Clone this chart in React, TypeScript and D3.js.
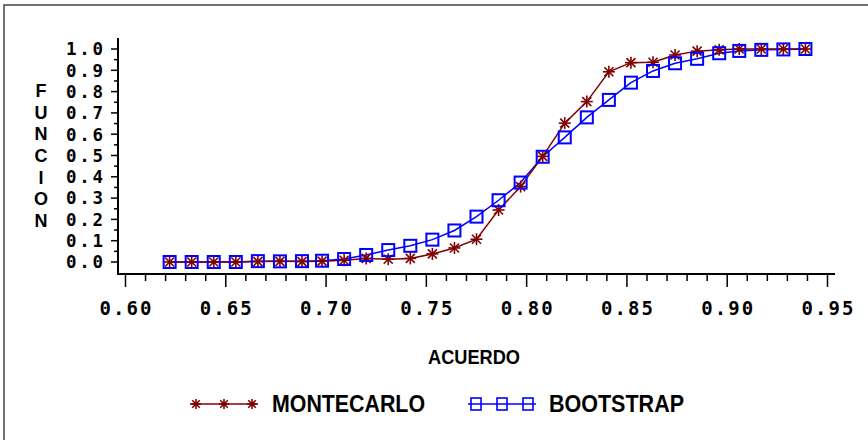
import React from 'react';
import * as d3 from 'd3';

// agreement values (x) shared by both curves
const acuerdo = [
  0.622, 0.633, 0.644, 0.655, 0.666, 0.677, 0.688, 0.698, 0.709, 0.720,
  0.731, 0.742, 0.753, 0.764, 0.775, 0.786, 0.797, 0.808, 0.819, 0.830,
  0.841, 0.852, 0.863, 0.874, 0.885, 0.896, 0.906, 0.917, 0.928, 0.939,
];

const montecarlo = [
  0.000, 0.000, 0.000, 0.000, 0.002, 0.003, 0.002, 0.004, 0.008, 0.017,
  0.013, 0.017, 0.038, 0.066, 0.107, 0.244, 0.354, 0.496, 0.652, 0.753,
  0.893, 0.936, 0.938, 0.972, 0.990, 0.996, 1.000, 1.000, 1.000, 1.000,
];

const bootstrap = [
  0.000, 0.000, 0.000, 0.000, 0.004, 0.003, 0.004, 0.006, 0.014, 0.033,
  0.056, 0.076, 0.105, 0.148, 0.213, 0.290, 0.373, 0.494, 0.585, 0.679,
  0.761, 0.842, 0.897, 0.933, 0.954, 0.980, 0.991, 0.996, 0.998, 1.000,
];

const xTicks = [0.6, 0.65, 0.7, 0.75, 0.8, 0.85, 0.9, 0.95];
const xTickLabels = ['0.60', '0.65', '0.70', '0.75', '0.80', '0.85', '0.90', '0.95'];
const yTicks = [0, 0.1, 0.2, 0.3, 0.4, 0.5, 0.6, 0.7, 0.8, 0.9, 1.0];
const yTickLabels = ['0.0', '0.1', '0.2', '0.3', '0.4', '0.5', '0.6', '0.7', '0.8', '0.9', '1.0'];
const yTitle = ['F', 'U', 'N', 'C', 'I', 'O', 'N'];

const RED = '#800000';
const BLUE = '#0000ff';
const monoFont = '"DejaVu Sans Mono", monospace';
const sansFont = '"Liberation Sans", Arial, sans-serif';

const Star = ({ cx, cy, r, color }: { cx: number; cy: number; r: number; color: string }) => {
  const d = r * 0.75;
  return (
    <g stroke={color} strokeWidth={1.6}>
      <line x1={cx - r} y1={cy} x2={cx + r} y2={cy} />
      <line x1={cx} y1={cy - r} x2={cx} y2={cy + r} />
      <line x1={cx - d} y1={cy - d} x2={cx + d} y2={cy + d} />
      <line x1={cx - d} y1={cy + d} x2={cx + d} y2={cy - d} />
      <circle cx={cx} cy={cy} r={1.8} fill={color} stroke="none" />
    </g>
  );
};

export default function App() {
  const width = 868;
  const height = 440;

  const xScale = d3.scaleLinear().domain([0.6, 0.95]).range([125.5, 827.5]);
  const yScale = d3.scaleLinear().domain([0, 1]).range([262, 49]);

  const axisLeft = 118;
  const axisBottom = 274;

  const xMinor = d3.range(60, 96).map((v) => v / 100).filter((v) => Math.round(v * 100) % 5 !== 0);
  const yMinor = d3.range(0, 21).map((v) => v / 20).filter((v, i) => i % 2 === 1);

  const line = d3.line<number>()
    .x((d, i) => xScale(acuerdo[i]))
    .y((d) => yScale(d));

  return (
    <svg width={width} height={height} style={{ position: 'absolute', left: 0, top: 0 }}>
      <rect x={0} y={0} width={width} height={height} fill="#fff" />
      {/* outer frame (right and bottom edges fall outside the picture) */}
      <rect x={4} y={5} width={width + 10} height={height + 10} fill="none" stroke="#444" strokeWidth={1.5} />

      {/* y axis */}
      <line x1={axisLeft} y1={38} x2={axisLeft} y2={axisBottom + 1} stroke="#000" strokeWidth={2} />
      {yTicks.map((t) => (
        <line key={`yt${t}`} x1={axisLeft - 7} x2={axisLeft} y1={yScale(t)} y2={yScale(t)} stroke="#000" strokeWidth={1.5} />
      ))}
      {yMinor.map((t) => (
        <line key={`ym${t}`} x1={axisLeft - 4} x2={axisLeft} y1={yScale(t)} y2={yScale(t)} stroke="#000" strokeWidth={1.5} />
      ))}
      {yTicks.map((t, i) => (
        <text
          key={`yl${t}`}
          x={66}
          y={yScale(t)}
          dy="0.36em"
          textLength={37}
          lengthAdjust="spacing"
          fontFamily={monoFont}
          fontWeight="bold"
          fontSize={17.5}
          fill="#000"
        >
          {yTickLabels[i]}
        </text>
      ))}
      {yTitle.map((c, i) => (
        <text
          key={`ft${i}`}
          x={41}
          y={90.5 + i * 21.7}
          dy="0.36em"
          textAnchor="middle"
          fontFamily={sansFont}
          fontWeight="bold"
          fontSize={18}
          fill="#000"
        >
          {c}
        </text>
      ))}

      {/* x axis */}
      <line x1={axisLeft} y1={axisBottom} x2={835} y2={axisBottom} stroke="#000" strokeWidth={2} />
      {xTicks.map((t) => (
        <line key={`xt${t}`} x1={xScale(t)} x2={xScale(t)} y1={axisBottom} y2={axisBottom + 13} stroke="#000" strokeWidth={1.5} />
      ))}
      {xMinor.map((t) => (
        <line key={`xm${t}`} x1={xScale(t)} x2={xScale(t)} y1={axisBottom} y2={axisBottom + 7} stroke="#000" strokeWidth={1.5} />
      ))}
      {xTicks.map((t, i) => (
        <text
          key={`xl${t}`}
          x={xScale(t) - 26}
          y={308}
          dy="0.36em"
          textLength={52}
          lengthAdjust="spacing"
          fontFamily={monoFont}
          fontWeight="bold"
          fontSize={19}
          fill="#000"
        >
          {xTickLabels[i]}
        </text>
      ))}
      <text
        x={428}
        y={357}
        dy="0.36em"
        textLength={92}
        lengthAdjust="spacingAndGlyphs"
        fontFamily={sansFont}
        fontWeight="bold"
        fontSize={20}
        fill="#000"
      >
        ACUERDO
      </text>

      {/* series */}
      <path d={line(bootstrap) || ''} fill="none" stroke={BLUE} strokeWidth={1.5} />
      <path d={line(montecarlo) || ''} fill="none" stroke={RED} strokeWidth={1.5} />
      {montecarlo.map((v, i) => (
        <Star key={`mc${i}`} cx={xScale(acuerdo[i])} cy={yScale(v)} r={6} color={RED} />
      ))}
      {bootstrap.map((v, i) => (
        <rect
          key={`bs${i}`}
          x={xScale(acuerdo[i]) - 6}
          y={yScale(v) - 6}
          width={12}
          height={12}
          fill="none"
          stroke={BLUE}
          strokeWidth={2}
        />
      ))}

      {/* legend */}
      <line x1={190} x2={258} y1={404} y2={404} stroke={RED} strokeWidth={1.5} />
      {[196, 224, 252].map((cx) => (
        <Star key={`lm${cx}`} cx={cx} cy={404} r={5} color={RED} />
      ))}
      <text
        x={272}
        y={404}
        dy="0.36em"
        textLength={153}
        lengthAdjust="spacingAndGlyphs"
        fontFamily={sansFont}
        fontWeight="bold"
        fontSize={23}
        fill="#000"
      >
        MONTECARLO
      </text>
      <line x1={468} x2={536} y1={404} y2={404} stroke={BLUE} strokeWidth={1.5} />
      {[476, 502, 528].map((cx) => (
        <rect key={`lb${cx}`} x={cx - 5} y={398} width={10} height={12} fill="none" stroke={BLUE} strokeWidth={1.6} />
      ))}
      <text
        x={549}
        y={404}
        dy="0.36em"
        textLength={135}
        lengthAdjust="spacingAndGlyphs"
        fontFamily={sansFont}
        fontWeight="bold"
        fontSize={23}
        fill="#000"
      >
        BOOTSTRAP
      </text>
    </svg>
  );
}
